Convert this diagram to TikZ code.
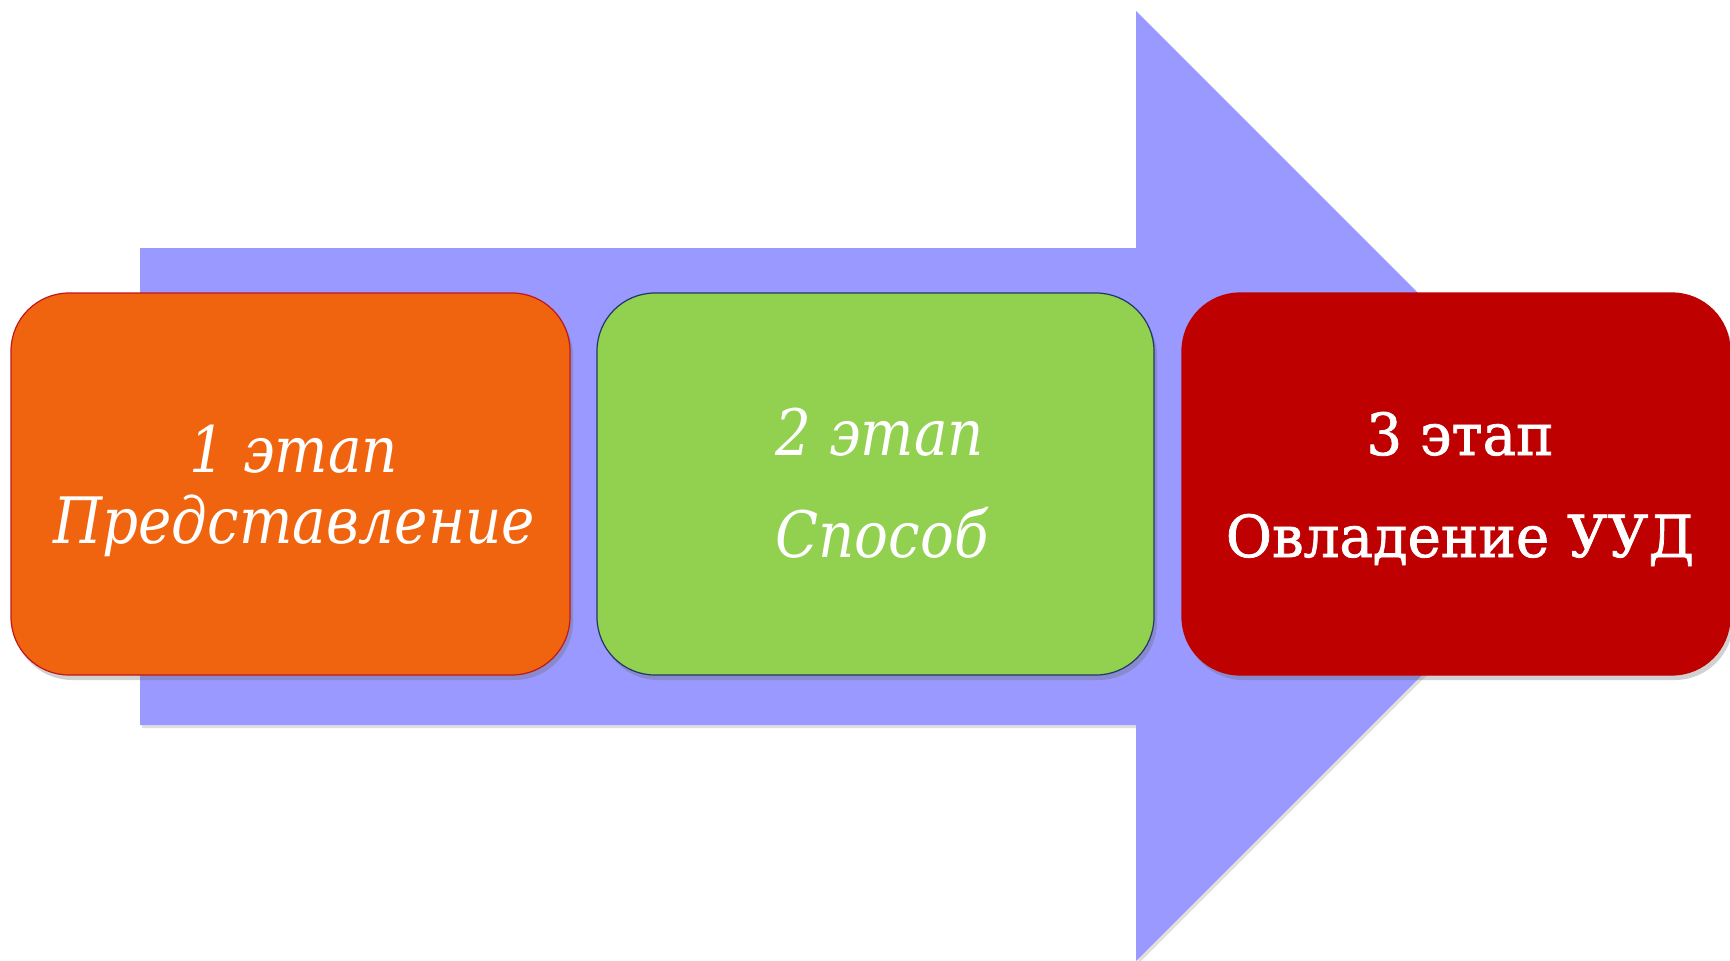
\documentclass[tikz,border=0pt]{standalone}
\usepackage{fontspec}
\setmainfont{DejaVu Serif}
\newfontfamily\itfont[FakeStretch=0.88]{DejaVu Serif}
\newfontfamily\upfont[FakeStretch=0.97,FakeBold=1.3]{DejaVu Serif}
\usetikzlibrary{shadows}
\definecolor{arrowcol}{HTML}{9999FF}
\definecolor{orangebox}{HTML}{F0640F}
\definecolor{orangeline}{HTML}{C01818}
\definecolor{greenbox}{HTML}{92D050}
\definecolor{greenline}{HTML}{1F3864}
\definecolor{redbox}{HTML}{BE0000}
\tikzset{
  stagebox/.style={rectangle, rounded corners=58pt, line width=1.2pt,
    drop shadow={shadow xshift=3pt, shadow yshift=-5pt, opacity=0.3, fill=black!60}},
  itlabel/.style={anchor=base, text=white, font=\itfont\itshape\fontsize{64}{64}\selectfont, inner sep=0pt},
  uplabel/.style={anchor=base, text=white, font=\upfont\fontsize{58}{58}\selectfont, inner sep=0pt}
}
\begin{document}
\begin{tikzpicture}[x=1pt,y=-1pt]
\useasboundingbox (0,0) rectangle (1730,961);
% big arrow
\fill[arrowcol, drop shadow={shadow xshift=2pt, shadow yshift=-3pt, opacity=0.25, fill=black!50}] (140,248) -- (1136,248) -- (1136,11) -- (1611,486) -- (1136,961) -- (1136,725) -- (140,725) -- cycle;
% boxes
\node[stagebox, fill=orangebox, draw=orangeline, minimum width=559pt, minimum height=382pt] (b1) at (290.5,484) {};
\node[stagebox, fill=greenbox, draw=greenline, minimum width=557pt, minimum height=382pt] (b2) at (875.5,484) {};
\node[stagebox, fill=redbox, draw=redbox, minimum width=548pt, minimum height=382pt] (b3) at (1456,484) {};
% labels
\node[itlabel] (l1a) at (294,472) {1 этап};
\node[itlabel] (l1b) at (294,543) {Представление};
\node[itlabel] (l2a) at (880,455) {2 этап};
\node[itlabel] (l2b) at (882,557) {Способ};
\node[uplabel] (l3a) at (1460,455) {3 этап};
\node[uplabel] (l3b) at (1460,557) {Овладение УУД};
\end{tikzpicture}
\end{document}
